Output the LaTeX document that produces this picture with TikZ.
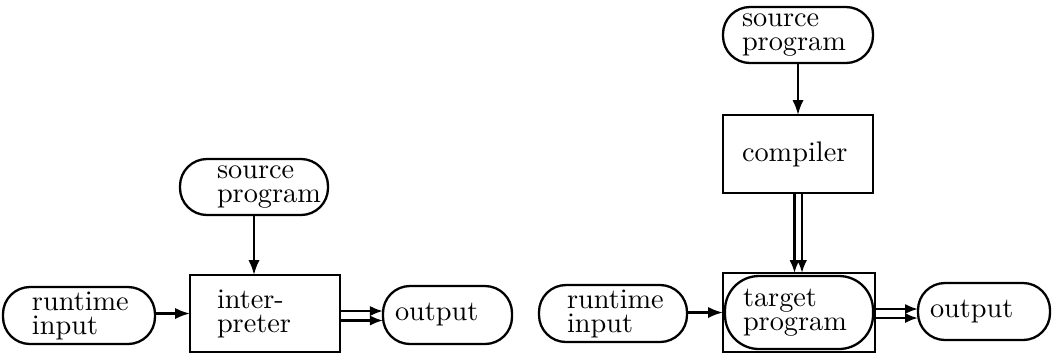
\documentclass[tikz,border=0pt]{standalone}
\usetikzlibrary{arrows.meta,calc}
\newlength\uu
\setlength\uu{0.3534pt}
\begin{document}
\begin{tikzpicture}[x=\uu, y=-\uu,
  base/.style={draw, line width=2.3\uu, font=\fontsize{10}{8.5}\selectfont, align=left, inner ysep=0pt, outer sep=0pt},
  term/.style={base, rounded corners=27\uu},
  proc/.style={base, rectangle},
  arr/.style={line width=2.3\uu, -{Latex[length=5.3pt,width=4pt]}},
  darr/.style={line width=2.3\uu, -{Latex[length=4.6pt,width=3.6pt]}}]
\useasboundingbox (0,0) rectangle (1053,355);
% left diagram
\node[term, minimum width=152\uu, minimum height=57\uu, inner xsep=29\uu, text width=94\uu] (rin1) at (79,315.5) {runtime\\input};
\node[proc, minimum width=150\uu, minimum height=77\uu, inner xsep=27\uu, text width=96\uu] (interp) at (265,313.5) {inter-\\preter};
\node[term, minimum width=148\uu, minimum height=56\uu, inner xsep=37\uu, text width=74\uu] (src1) at (254,187) {source\\program};
\node[term, minimum width=129\uu, minimum height=58\uu, inner xsep=12\uu, text width=105\uu] (out1) at (447.5,315) {output};
\draw[arr] (src1.south) -- (src1.south |- interp.north);
\draw[arr] (rin1.east |- interp.west) -- (interp.west);
\coordinate (d1a) at ($(interp.east)+(0,-2.5)$);
\coordinate (d1b) at ($(interp.east)+(0,7)$);
\draw[darr] (d1a) -- (d1a -| out1.west);
\draw[darr] (d1b) -- (d1b -| out1.west);
% right diagram
\node[term, minimum width=150\uu, minimum height=56\uu, inner xsep=19\uu, text width=112\uu] (src2) at (798,35) {source\\program};
\node[proc, minimum width=150\uu, minimum height=78\uu, inner xsep=19\uu, text width=112\uu] (comp) at (798,154) {compiler};
\node[proc, minimum width=152\uu, minimum height=79\uu] (tgtbox) at (799,312.5) {};
\node[base, rounded corners=34\uu, minimum width=148\uu, minimum height=73\uu, inner xsep=18\uu, text width=112\uu] (tgt) at (799,312.5) {target\\program};
\node[term, minimum width=148\uu, minimum height=57\uu, inner xsep=28\uu, text width=92\uu] (rin2) at (613,313.5) {runtime\\input};
\node[term, minimum width=132\uu, minimum height=57\uu, inner xsep=12\uu, text width=108\uu] (out2) at (984,311.5) {output};
\draw[arr] (src2.south) -- (comp.north);
\coordinate (d2a) at ($(comp.south)+(-3.5,0)$);
\coordinate (d2b) at ($(comp.south)+(4,0)$);
\draw[darr] (d2a) -- (d2a |- tgtbox.north);
\draw[darr] (d2b) -- (d2b |- tgtbox.north);
\draw[arr] (rin2.east |- tgtbox.west) -- (tgtbox.west);
\coordinate (d3a) at ($(tgtbox.east)+(0,-3.5)$);
\coordinate (d3b) at ($(tgtbox.east)+(0,5.5)$);
\draw[darr] (d3a) -- (d3a -| out2.west);
\draw[darr] (d3b) -- (d3b -| out2.west);
\end{tikzpicture}
\end{document}
